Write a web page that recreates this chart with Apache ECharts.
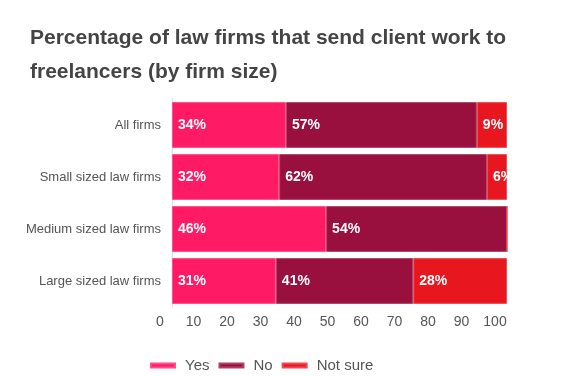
<!DOCTYPE html>
<html>
<head>
<meta charset="utf-8">
<script src="https://cdn.jsdelivr.net/npm/echarts@6/dist/echarts.min.js"></script>
<style>html,body{margin:0;padding:0;background:#fff}#c{width:564px;height:376px}</style>
</head>
<body>
<div id="c"></div>
<script>
var categories = ["All firms", "Small sized law firms", "Medium sized law firms", "Large sized law firms"];
var yesValues = [34, 32, 46, 31];
var noValues = [57, 62, 54, 41];
var notSureValues = [9, 6, 0, 28];
var seriesNames = ["Yes", "No", "Not sure"];
var xTicks = [0, 10, 20, 30, 40, 50, 60, 70, 80, 90, 100];

var colors = ["#ff1a66", "#990f3d", "#e8171f"];
var borders = ["#ff4d88", "#b04066", "#ee4a50"];

function mk(name, data, i) {
  return {
    name: name, type: "bar", stack: "t", data: data,
    barCategoryGap: "12%",
    itemStyle: { color: colors[i], borderColor: borders[i], borderWidth: 1 },
    label: {
      show: true, position: "insideLeft", distance: 6,
      color: "#fff", fontWeight: "bold", fontSize: 14,
      fontFamily: "Liberation Sans, Arial, sans-serif",
      formatter: function (p) { return p.value ? p.value + "%" : ""; }
    }
  };
}

var chart = echarts.init(document.getElementById("c"), null, { renderer: "canvas" });
chart.setOption({
  animation: false,
  textStyle: { fontFamily: "Liberation Sans, Arial, sans-serif" },
  title: {
    text: "Percentage of law firms that send client work to\nfreelancers (by firm size)",
    left: 25, top: 16,
    textStyle: { fontSize: 21, fontWeight: "bold", color: "#444", lineHeight: 34,
      fontFamily: "Liberation Sans, Arial, sans-serif" }
  },
  legend: {
    data: seriesNames, left: 145, top: 353, icon: "rect",
    itemWidth: 24, itemHeight: 4, itemGap: 9,
    textStyle: { fontSize: 15, color: "#555", padding: [0, 0, 0, 5] }
  },
  grid: { left: 172, right: 57, top: 99, bottom: 69, containLabel: false },
  xAxis: {
    type: "value", min: xTicks[0], max: xTicks[xTicks.length - 1], interval: 10,
    splitLine: { show: false }, axisLine: { show: false }, axisTick: { show: false },
    axisLabel: { color: "#555", fontSize: 14, margin: 8, padding: [0, 24, 0, 0] }
  },
  yAxis: {
    type: "category", data: categories, inverse: true,
    axisLine: { show: true, lineStyle: { color: "#ddd" } },
    axisTick: { show: false },
    axisLabel: { color: "#555", fontSize: 13, margin: 11 }
  },
  series: [mk(seriesNames[0], yesValues, 0), mk(seriesNames[1], noValues, 1), mk(seriesNames[2], notSureValues, 2)]
});
</script>
</body>
</html>
